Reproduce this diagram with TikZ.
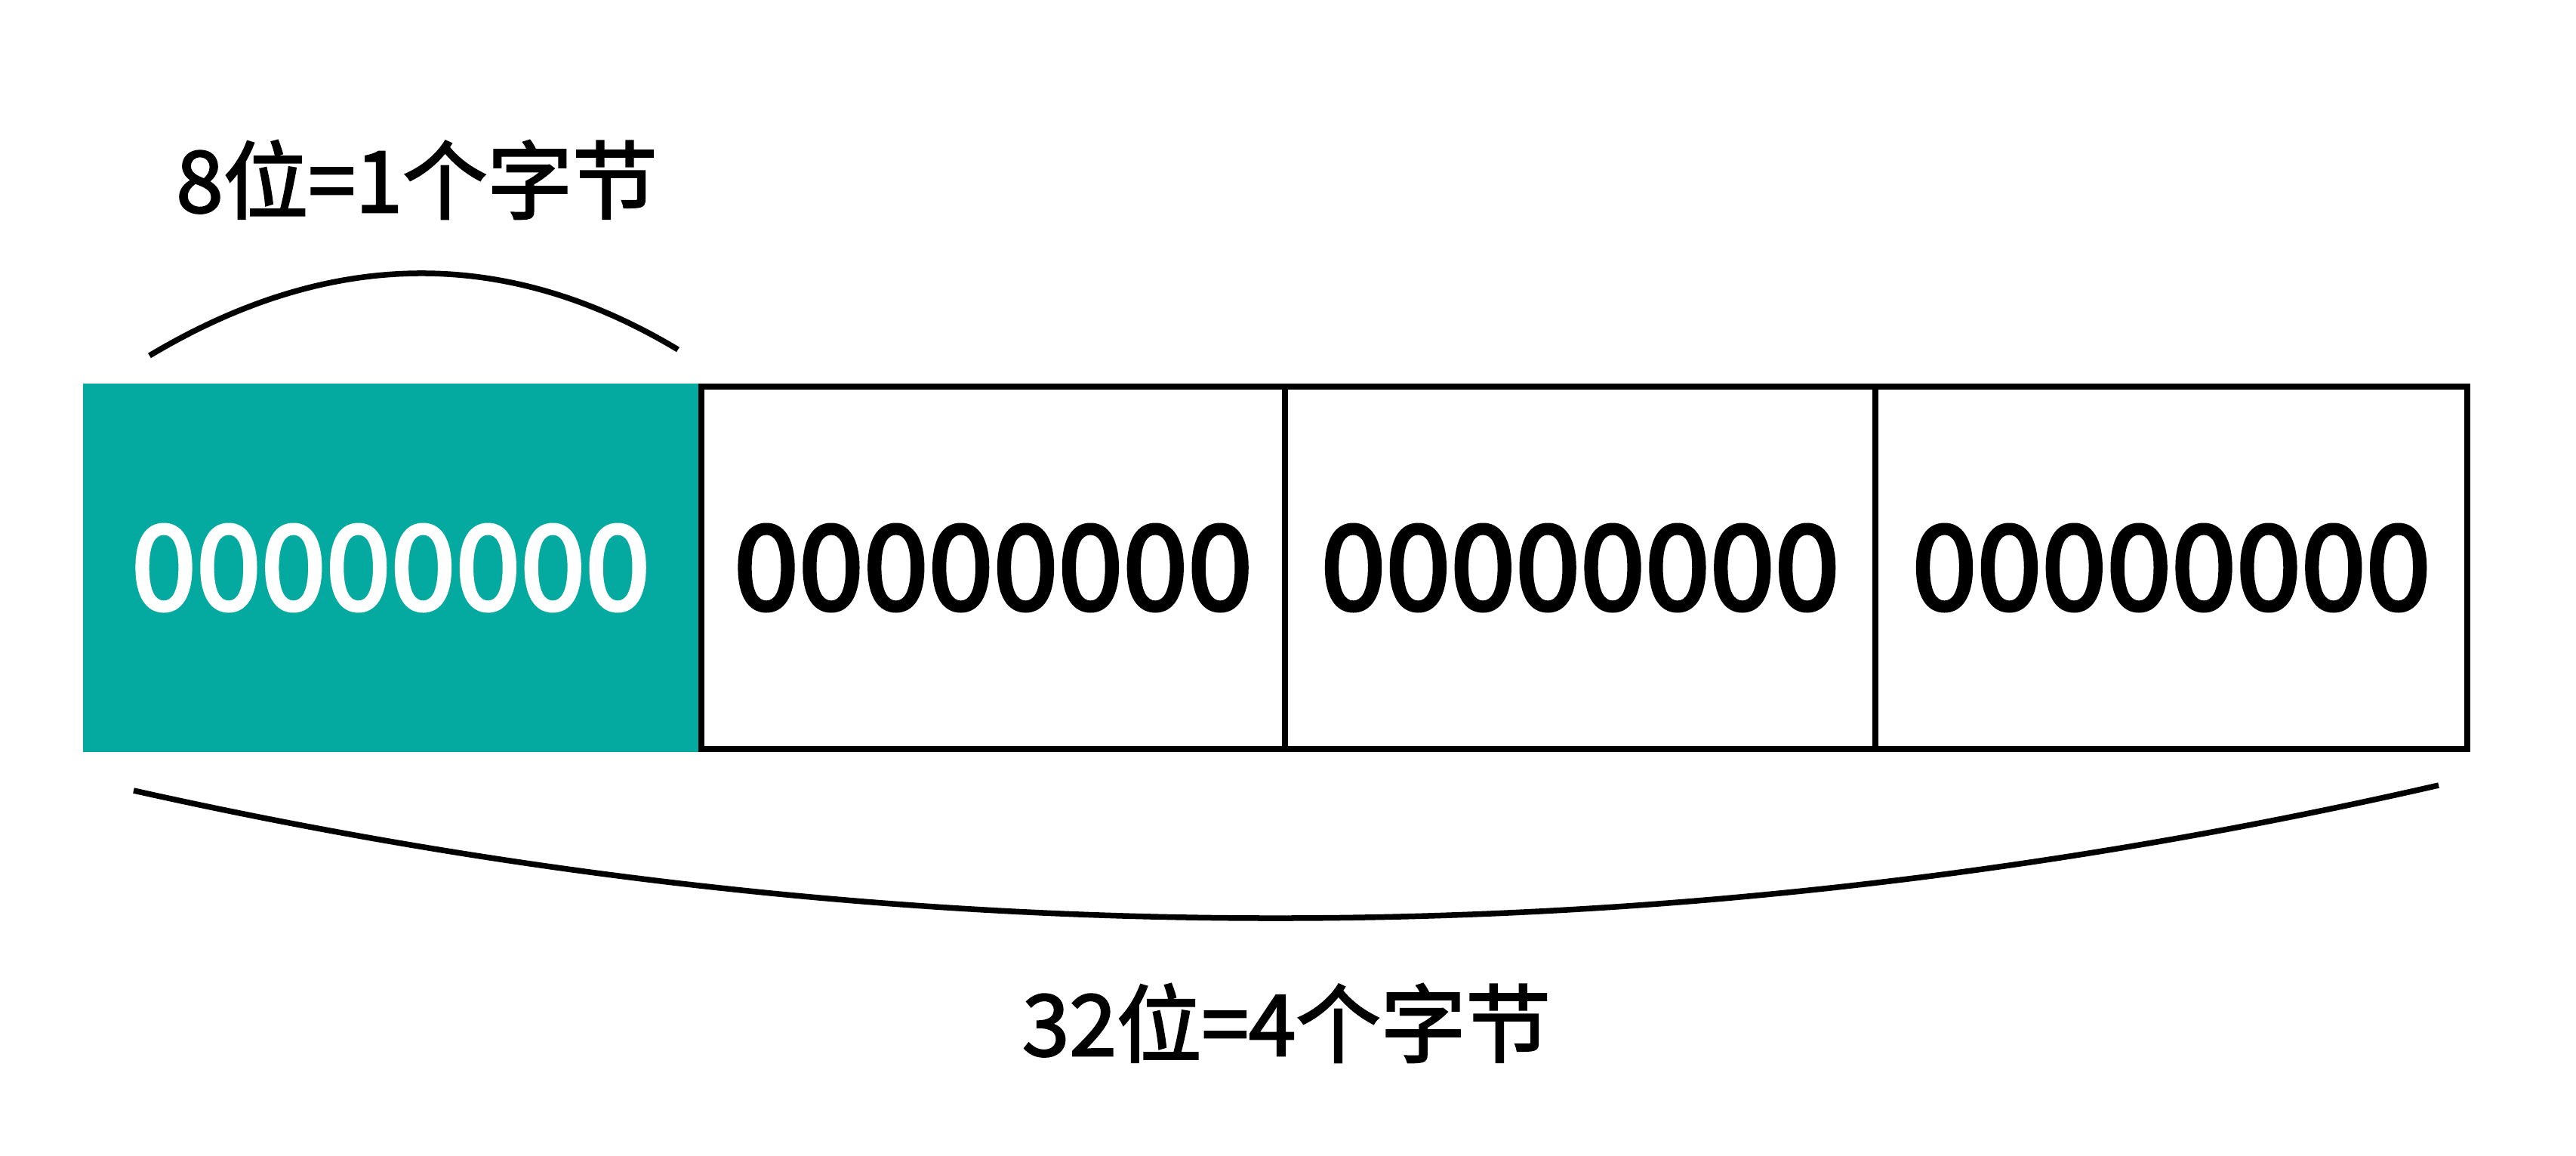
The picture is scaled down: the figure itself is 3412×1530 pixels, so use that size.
\documentclass[tikz,border=0pt]{standalone}
\usepackage{fontspec}
\setmainfont{Noto Sans CJK SC}
\newfontfamily\cjk{Noto Sans CJK SC}
\newfontfamily\cjkdigits[FakeBold=3]{Noto Sans CJK SC}
\newfontfamily\cjkhand[FakeBold=2.2]{Noto Sans CJK SC}
\definecolor{cellteal}{RGB}{4,169,159}
\begin{document}
\begin{tikzpicture}[x=0.01cm,y=-0.01cm,
  bytecell/.style={draw=black,line width=0.8mm,fill=white,inner sep=0pt,
    minimum height=4.8cm,font=\cjkdigits\fontsize{44}{50}\selectfont},
  hotcell/.style={fill=cellteal,inner sep=0pt,minimum width=8.15cm,
    minimum height=4.88cm,text=white,font=\cjkdigits\fontsize{44}{50}\selectfont},
  brace/.style={draw=black,line width=0.75mm},
  label/.style={font=\cjkhand\fontsize{32}{38}\selectfont,inner sep=0pt}]
\useasboundingbox (0,0) rectangle (3412,1530);
\node[bytecell,minimum width=7.73cm] (b2) at (1315.5,752) {00000000};
\node[bytecell,minimum width=7.82cm] (b3) at (2093,752) {00000000};
\node[bytecell,minimum width=7.84cm] (b4) at (2876,752) {00000000};
\node[hotcell] (b1) at (517.5,752) {00000000};
\coordinate (t1) at (198,471);
\coordinate (t2) at (898,463);
\draw[brace] (t1) .. controls (437,328) and (670,326) .. (t2);
\coordinate (u1) at (177,1047);
\coordinate (u2) at (3230,1040);
\draw[brace] (u1) .. controls (1198,1275) and (2216,1272) .. (u2);
\node[label] (l1) at (552,238) {8位=1个字节};
\node[label] (l2) at (1704,1355) {32位=4个字节};
\end{tikzpicture}
\end{document}
